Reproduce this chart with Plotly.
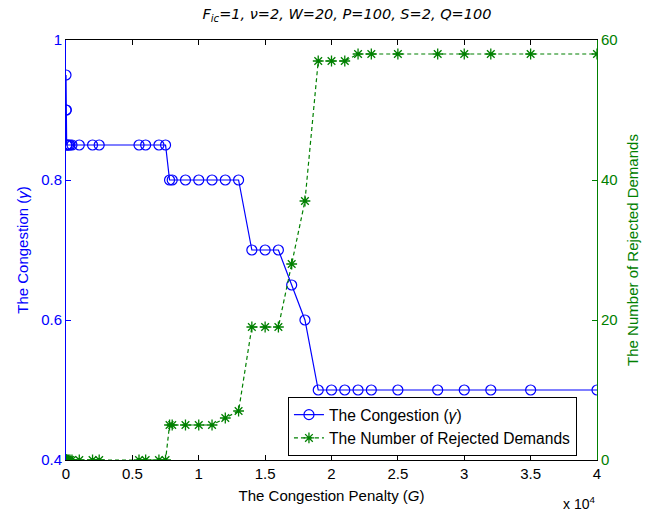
import plotly.graph_objects as go

penalty = [0, 10, 20, 50, 100, 200, 300, 450, 1000, 2000, 2500, 5500, 6000, 7000, 7500,
           7800, 8000, 9000, 10000, 11000, 12000, 13000, 14000, 15000, 16000, 17000, 18000,
           19000, 20000, 21000, 22000, 23000, 25000, 28000, 30000, 32000, 35000, 40000]
congestion = [0.95, 0.9, 0.9, 0.85, 0.85, 0.85, 0.85, 0.85, 0.85, 0.85, 0.85, 0.85, 0.85, 0.85, 0.85,
              0.8, 0.8, 0.8, 0.8, 0.8, 0.8, 0.8, 0.7, 0.7, 0.7, 0.65, 0.6,
              0.5, 0.5, 0.5, 0.5, 0.5, 0.5, 0.5, 0.5, 0.5, 0.5, 0.5]
rejected = [0, 0, 0, 0, 0, 0, 0, 0, 0, 0, 0, 0, 0, 0, 0,
            5, 5, 5, 5, 5, 6, 7, 19, 19, 19, 28, 37,
            57, 57, 57, 58, 58, 58, 58, 58, 58, 58, 58]
x_tickvals = [0, 5000, 10000, 15000, 20000, 25000, 30000, 35000, 40000]
x_ticktext = ["0", "0.5", "1", "1.5", "2", "2.5", "3", "3.5", "4"]

BLUE = "rgb(0,0,255)"
GREEN = "rgb(0,128,0)"
FONT = "Liberation Sans, Arial, sans-serif"
FS = 15

fig = go.Figure()
fig.add_trace(go.Scatter(
    x=penalty, y=congestion, name="The Congestion (<i>γ</i>)",
    mode="lines+markers",
    line=dict(color=BLUE, width=1.2),
    marker=dict(symbol="circle-open", size=10, color=BLUE, line=dict(width=1.2, color=BLUE)),
    yaxis="y"))
fig.add_trace(go.Scatter(
    x=penalty, y=rejected, name="The Number of Rejected Demands",
    mode="lines+markers",
    line=dict(color=GREEN, width=1.2, dash="4px,3px"),
    marker=dict(symbol="asterisk-open", size=9, color=GREEN, line=dict(width=1.3, color=GREEN)),
    yaxis="y2"))

fig.update_layout(
    width=656, height=512,
    margin=dict(l=66, r=59, t=40, b=52, autoexpand=False),
    paper_bgcolor="white", plot_bgcolor="white",
    font=dict(family=FONT, size=FS, color="black"),
    title=dict(text="<i>F<sub>ic</sub>=1, ν=2, W=20, P=100, S=2, Q=100</i>",
               xref="paper", x=0.529, xanchor="center", y=0.972, yanchor="middle",
               font=dict(family="DejaVu Sans, sans-serif", size=14.5, color="black")),
    showlegend=True,
    legend=dict(x=0.418, y=0.15, xanchor="left", yanchor="top",
                bgcolor="white", bordercolor="black", borderwidth=1,
                font=dict(size=15.6, color="black"), tracegroupgap=0,
                itemwidth=30),
    xaxis=dict(range=[0, 40000], tickvals=x_tickvals, ticktext=x_ticktext,
               ticks="inside", ticklen=5, tickcolor="black", automargin=False,
               showline=True, linecolor="black", linewidth=1, mirror="ticks",
               showgrid=False, zeroline=False,
               tickfont=dict(color="black", size=FS),
               title=dict(text="The Congestion Penalty (<i>G</i>)", standoff=9,
                          font=dict(color="black", size=FS))),
    yaxis=dict(range=[0.4, 1], tickvals=[0.4, 0.6, 0.8, 1], ticktext=["0.4", "0.6", "0.8", "1"],
               ticks="inside", ticklen=5, tickcolor=BLUE, automargin=False,
               showline=True, linecolor=BLUE, linewidth=1,
               showgrid=False, zeroline=False,
               tickfont=dict(color=BLUE, size=FS),
               title=dict(text="The Congestion (<i>γ</i>)", standoff=8,
                          font=dict(color=BLUE, size=FS))),
    yaxis2=dict(range=[0, 60], tickvals=[0, 20, 40, 60],
                overlaying="y", side="right", automargin=False,
                ticks="inside", ticklen=5, tickcolor=GREEN,
                showline=True, linecolor=GREEN, linewidth=1,
                showgrid=False, zeroline=False,
                tickfont=dict(color=GREEN, size=FS),
                title=dict(text="The Number of Rejected Demands", standoff=10,
                           font=dict(color=GREEN, size=FS))),
    annotations=[dict(text="x 10<sup>4</sup>", xref="paper", yref="paper",
                      x=1.0, y=-0.128, xanchor="right", yanchor="bottom", showarrow=False,
                      font=dict(size=FS - 1, color="black"))],
)

fig.write_html("out.html", config={"displayModeBar": False},
               post_script="document.body.style.margin='0';document.body.style.padding='0';")
